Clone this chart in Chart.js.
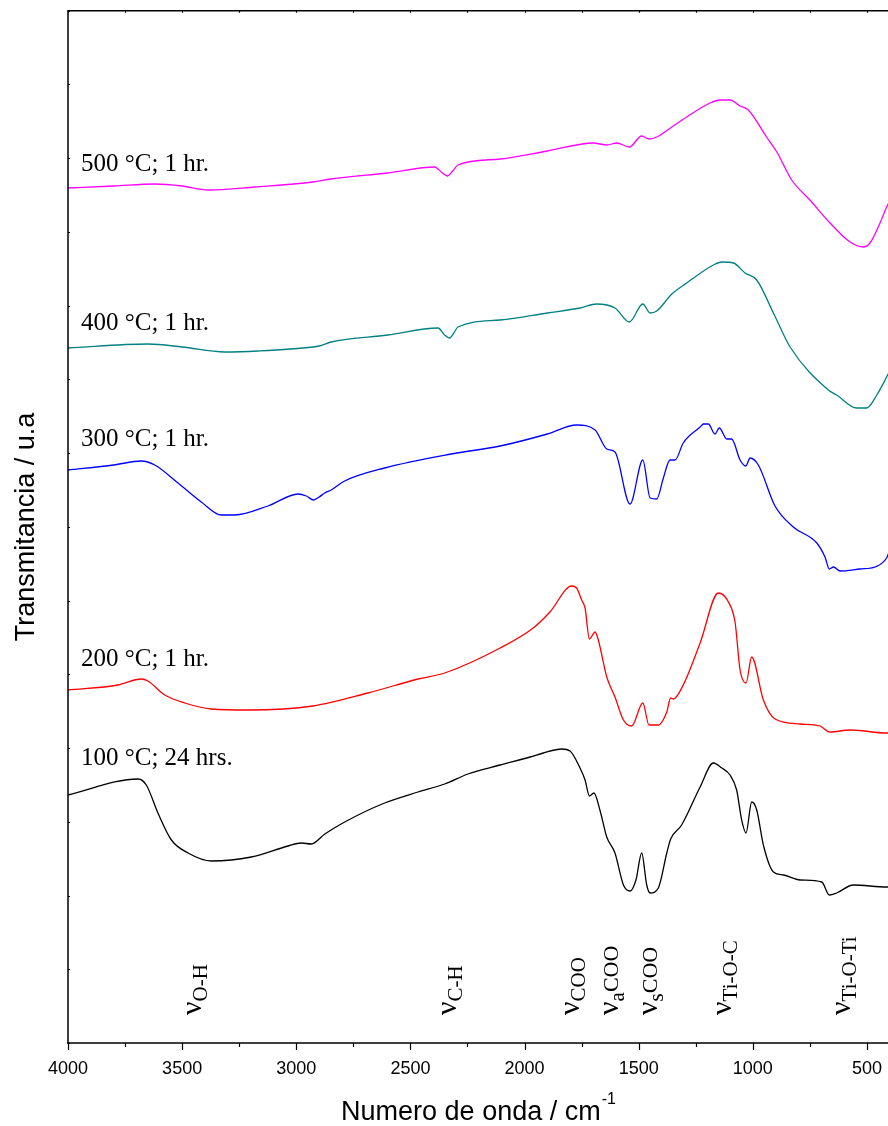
<!DOCTYPE html>
<html><head><meta charset="utf-8">
<script src="https://cdn.jsdelivr.net/npm/chart.js@4/dist/chart.umd.min.js"></script>
<style>html,body{margin:0;padding:0;background:#fff;overflow:hidden;width:888px;height:1126px}</style>
</head><body>
<canvas id="c" style="display:block"></canvas>
<script>
// ---- data (wavenumber cm^-1, transmittance a.u.) ----
const wn500 = [4000,3800,3620,3500,3387,3182,2927,2848,2600,2394,2360,2338,2315,2292,2107,1900,1699,1640,1596,1541,1487,1455,1421,1355,1290,1188,1144,1100,1056,1020,940,895,830,750,662,574,516,487,443,414,405];
const t500  = [85.5,85.7,85.9,85.7,85.3,85.6,86.1,86.4,87.0,87.6,87.0,86.7,87.2,87.8,88.4,89.2,90.0,89.8,90.0,89.6,90.7,90.4,90.6,91.6,92.6,94.0,94.3,94.3,93.7,93.3,90.6,89.1,86.3,84.3,82.0,80.1,79.6,80.0,82.0,83.6,84.0];

const wn400 = [4000,3650,3500,3314,3168,2927,2900,2847,2600,2379,2350,2328,2310,2292,2107,1900,1757,1684,1604,1541,1482,1450,1421,1355,1290,1173,1136,1085,1034,983,910,837,669,633,545,501,457,414,405];
const t400  = [69.5,69.9,69.6,69.1,69.2,69.6,69.7,70.1,70.8,71.5,70.8,70.5,71.0,71.6,72.3,73.0,73.5,73.9,73.5,72.1,73.9,73.0,73.2,74.9,76.0,77.8,78.1,78.0,77.0,76.3,73.0,69.6,65.3,64.8,63.5,63.5,64.8,66.6,67.0];

const wn300 = [4000,3800,3679,3620,3518,3416,3328,3270,3124,2992,2956,2924,2900,2875,2847,2788,2613,2321,2107,1900,1772,1691,1640,1604,1538,1482,1450,1421,1392,1363,1341,1305,1231,1217,1195,1166,1147,1114,1093,1056,1031,1012,976,903,823,720,684,665,647,618,530,465,414,405];
const t300  = [57.3,57.8,58.2,57.8,56.0,54.1,52.8,52.8,53.7,54.9,54.7,54.3,54.6,55.0,55.3,56.2,57.5,58.9,59.7,60.9,61.8,61.3,59.4,59.1,53.9,58.3,54.5,54.4,56.5,58.3,58.3,60.0,61.6,61.9,61.9,60.9,61.5,60.4,60.4,58.3,57.7,58.5,57.8,53.7,51.6,50.0,48.6,47.4,47.6,47.2,47.4,47.6,48.5,49.0];

const wn200 = [4000,3781,3679,3650,3576,3489,3372,3211,2927,2686,2467,2350,2107,1962,1889,1793,1772,1750,1735,1716,1691,1677,1640,1604,1567,1531,1482,1455,1414,1377,1360,1348,1305,1231,1151,1107,1078,1056,1030,1005,954,903,793,706,662,574,414,405];
const t200  = [35.3,35.8,36.4,36.2,34.8,34.0,33.4,33.3,33.7,35.0,36.4,37.0,39.5,41.5,43.1,45.7,45.5,44.3,43.5,40.4,41.1,40.3,36.6,34.6,32.3,31.7,34.0,31.8,31.8,33.1,34.5,34.4,35.8,40.0,45.0,44.1,42.1,37.3,36.0,38.6,34.3,32.4,31.9,31.7,31.1,31.3,31.0,31.0];

const wn100 = [4000,3693,3657,3606,3547,3474,3372,3197,3036,2978,2934,2875,2788,2613,2467,2350,2248,2107,1976,1918,1837,1801,1757,1735,1716,1696,1670,1640,1604,1567,1538,1512,1487,1465,1450,1414,1377,1360,1312,1231,1173,1136,1100,1071,1049,1030,1005,983,954,910,866,793,698,665,633,560,414,405];
const t100  = [24.8,26.4,25.8,23.0,20.3,19.0,18.2,18.6,19.7,20.0,19.9,20.9,22.1,24.0,25.1,25.9,26.9,27.8,28.6,29.0,29.4,29.2,27.5,26.3,24.7,25.0,23.3,20.6,19.0,15.8,15.2,16.3,19.0,15.8,15.0,15.5,19.0,20.4,21.8,25.6,28.0,27.5,26.8,25.3,22.3,21.0,24.1,23.3,19.8,17.1,16.8,16.3,16.1,14.8,15.0,15.8,15.6,15.6];

const seriesLabels = ["500 °C; 1 hr.", "400 °C; 1 hr.", "300 °C; 1 hr.", "200 °C; 1 hr.", "100 °C; 24 hrs."];
const labelLevels  = [87.25, 71.3, 59.7, 37.75, 27.8];

const bandWn   = [3435, 2318, 1779, 1608, 1437, 1113, 592];
const bandSub  = ["O-H", "C-H", "COO", "a", "s", "Ti-O-C", "Ti-O-Ti"];
const bandRest = ["", "", "", "COO", "COO", "", ""];

const xTickLabels = [4000, 3500, 3000, 2500, 2000, 1500, 1000, 500];
const xMin = 408, xMax = 4000, yMin = 0, yMax = 103.23;

const colors = ["#ff00ff", "#008080", "#0000ff", "#ff0000", "#000000"];
const allWn = [wn500, wn400, wn300, wn200, wn100];
const allT  = [t500, t400, t300, t200, t100];

const datasets = allWn.map((w, i) => ({
  label: seriesLabels[i],
  data: w.map((x, k) => ({x: x, y: allT[i][k]})),
  borderColor: colors[i],
  borderWidth: 1.3,
  pointRadius: 0,
  cubicInterpolationMode: 'monotone',
  fill: false
}));

const deco = {
  id: 'deco',
  afterDraw(chart) {
    const ctx = chart.ctx, a = chart.chartArea;
    const xs = chart.scales.x, ys = chart.scales.y;
    ctx.save();
    ctx.strokeStyle = '#000';
    ctx.lineWidth = 1.5;
    // frame (right side is beyond the picture)
    ctx.beginPath();
    ctx.moveTo(a.left, a.bottom); ctx.lineTo(a.left, a.top); ctx.lineTo(a.right + 2, a.top);
    ctx.moveTo(a.left - 1, a.bottom); ctx.lineTo(a.right + 2, a.bottom);
    ctx.stroke();
    // x ticks
    ctx.lineWidth = 1.2;
    for (let v = xMax; v >= 500; v -= 250) {
      const px = Math.round(xs.getPixelForValue(v)) + 0.5;
      const major = v % 500 === 0;
      ctx.beginPath();
      ctx.moveTo(px, a.bottom); ctx.lineTo(px, a.bottom + (major ? 7 : 4));
      ctx.moveTo(px, a.top); ctx.lineTo(px, a.top + 2);
      ctx.stroke();
    }
    // y ticks (inward, small)
    ys.ticks.forEach(t => {
      const py = Math.round(ys.getPixelForValue(t.value)) + 0.5;
      ctx.beginPath(); ctx.moveTo(a.left, py); ctx.lineTo(a.left + 2, py); ctx.stroke();
    });
    // series labels
    ctx.fillStyle = '#000';
    ctx.font = '25px "Liberation Serif", "Times New Roman", serif';
    ctx.textBaseline = 'alphabetic';
    ctx.textAlign = 'left';
    seriesLabels.forEach((s, i) => {
      ctx.fillText(s, a.left + 13, ys.getPixelForValue(labelLevels[i]));
    });
    // band annotations (vertical)
    bandWn.forEach((w, i) => {
      const px = xs.getPixelForValue(w);
      ctx.save();
      ctx.translate(px + 4, 1015);
      ctx.rotate(-Math.PI / 2);
      ctx.font = '30px "Liberation Serif", serif';
      ctx.fillText('ν', 0, 0);
      let off = ctx.measureText('ν').width;
      ctx.font = '21px "Liberation Serif", serif';
      ctx.fillText(bandSub[i], off, 6);
      off += ctx.measureText(bandSub[i]).width;
      if (bandRest[i]) {
        ctx.font = '22px "Liberation Serif", serif';
        ctx.fillText(bandRest[i], off, 0);
      }
      ctx.restore();
    });
    // axis titles
    ctx.font = '27px "Liberation Sans", Arial, sans-serif';
    ctx.textAlign = 'left';
    const main = 'Numero de onda / cm';
    const wMain = ctx.measureText(main).width;
    ctx.font = '16px "Liberation Sans", Arial, sans-serif';
    const wSup = ctx.measureText('-1').width;
    const startX = 478 - (wMain + wSup) / 2;
    ctx.font = '27px "Liberation Sans", Arial, sans-serif';
    ctx.fillText(main, startX, 1120);
    ctx.font = '16px "Liberation Sans", Arial, sans-serif';
    ctx.fillText('-1', startX + wMain + 1, 1104);
    ctx.save();
    ctx.translate(34, 527);
    ctx.rotate(-Math.PI / 2);
    ctx.textAlign = 'center';
    ctx.font = '27px "Liberation Sans", Arial, sans-serif';
    ctx.fillText('Transmitancia / u.a', 0, 0);
    ctx.restore();
    ctx.restore();
  }
};

const canvas = document.getElementById('c');
canvas.width = 888; canvas.height = 1126;
canvas.style.width = '888px'; canvas.style.height = '1126px';

new Chart(canvas, {
  type: 'line',
  data: { datasets },
  plugins: [deco],
  options: {
    responsive: false,
    animation: false,
    devicePixelRatio: 1,
    layout: { padding: { top: 10.7, right: 0, left: 0, bottom: 0 } },
    plugins: { legend: { display: false }, tooltip: { enabled: false } },
    scales: {
      x: {
        type: 'linear', reverse: true, min: xMin, max: xMax,
        grid: { display: false, drawTicks: false },
        border: { display: false },
        afterBuildTicks: s => { s.ticks = xTickLabels.map(v => ({ value: v })); },
        afterFit: s => { s.height = 1126 - 1043; s.paddingLeft = 0; s.paddingRight = 0; },
        ticks: {
          padding: 15, maxRotation: 0, autoSkip: false, color: '#000',
          font: { family: '"Liberation Sans", Arial, sans-serif', size: 18 },
          callback: v => String(v)
        }
      },
      y: {
        type: 'linear', min: yMin, max: yMax,
        grid: { display: false, drawTicks: false },
        border: { display: false },
        afterBuildTicks: s => { const t = []; for (let k = 0; k <= 14; k++) t.push({ value: yMin + k * (yMax - yMin) / 14 }); s.ticks = t; },
        afterFit: s => { s.width = 68; s.paddingTop = 0; s.paddingBottom = 0; },
        ticks: { display: false }
      }
    }
  }
});
</script>
</body></html>
